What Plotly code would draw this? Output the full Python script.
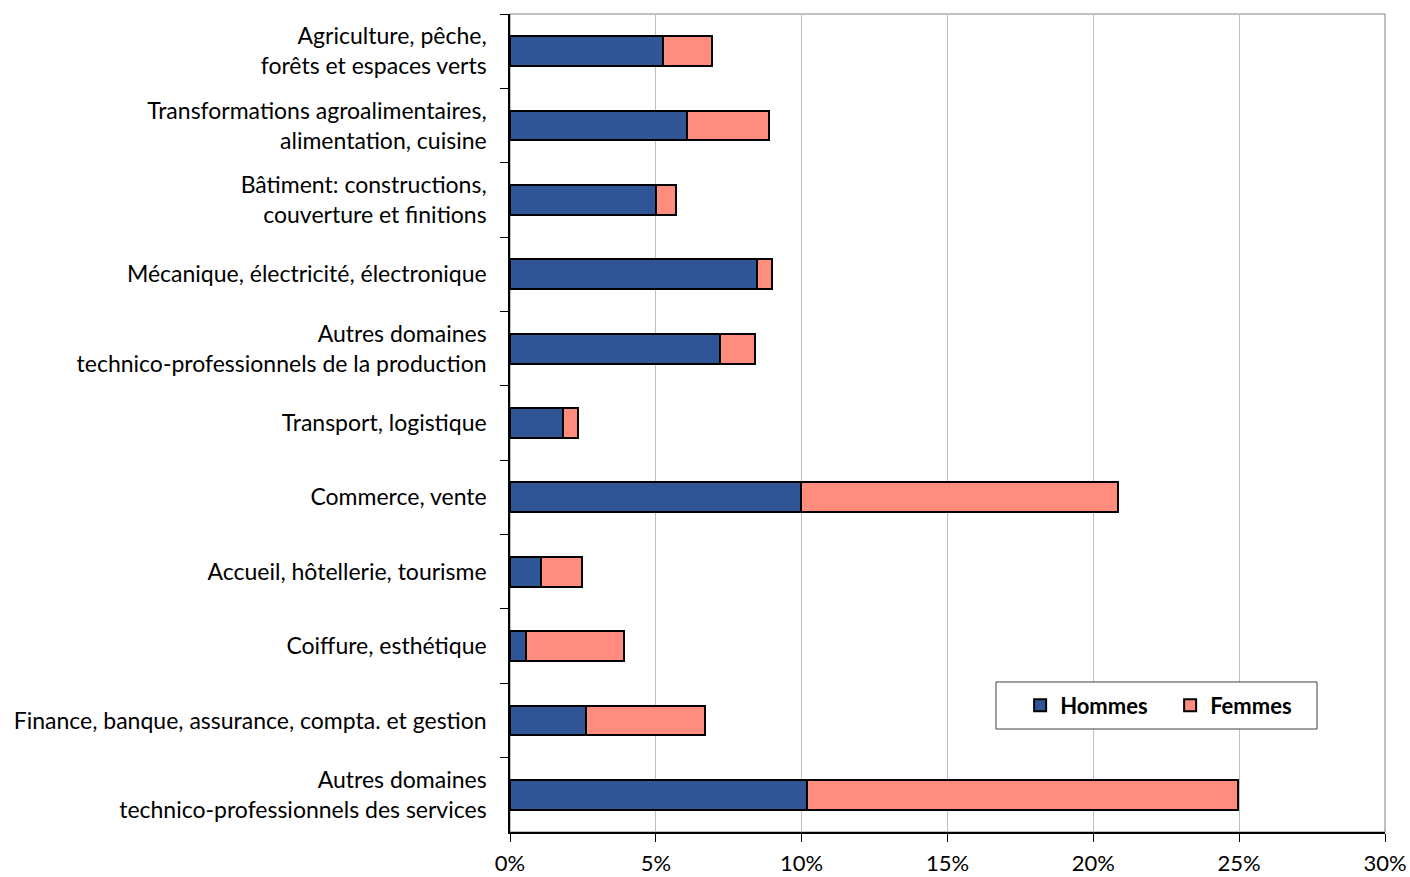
import plotly.graph_objects as go

categories = [
    "Agriculture, pêche,<br>forêts et espaces verts",
    "Transformations agroalimentaires,<br>alimentation, cuisine",
    "Bâtiment: constructions,<br>couverture et finitions",
    "Mécanique, électricité, électronique",
    "Autres domaines<br>technico-professionnels de la production",
    "Transport, logistique",
    "Commerce, vente",
    "Accueil, hôtellerie, tourisme",
    "Coiffure, esthétique",
    "Finance, banque, assurance, compta. et gestion",
    "Autres domaines<br>technico-professionnels des services",
]
hommes = [5.25, 6.07, 5.0, 8.47, 7.2, 1.82, 9.98, 1.06, 0.55, 2.61, 10.18]
femmes = [1.67, 2.81, 0.69, 0.51, 1.2, 0.51, 10.86, 1.41, 3.36, 4.08, 14.78]
x_ticks = [0, 5, 10, 15, 20, 25, 30]
x_tick_labels = ["0%", "5%", "10%", "15%", "20%", "25%", "30%"]

FONT = "Lato"

fig = go.Figure()
fig.add_trace(go.Bar(y=categories, x=hommes, name="Hommes", orientation="h",
                     marker=dict(color="#2F5597", line=dict(color="black", width=2))))
fig.add_trace(go.Bar(y=categories, x=femmes, name="Femmes", orientation="h",
                     marker=dict(color="#FF8C7C", line=dict(color="black", width=2))))

fig.update_layout(
    width=1410, height=877,
    margin=dict(l=510, r=25, t=14, b=45, autoexpand=False),
    barmode="stack", bargap=0.6,
    plot_bgcolor="white", paper_bgcolor="white",
    font=dict(family=FONT, size=23, color="black"),
    legend=dict(orientation="h", x=0.583, y=0.1547, xanchor="left", yanchor="middle",
                bgcolor="rgba(0,0,0,0)", borderwidth=0,
                traceorder="normal",
                font=dict(family=FONT, size=22, color="black", weight="bold"),
                entrywidth=105, itemsizing="constant"),
    shapes=[
        dict(type="rect", xref="paper", yref="paper", x0=0, x1=1, y0=0, y1=1,
             line=dict(color="#808080", width=1), layer="below"),
        dict(type="rect", xref="paper", yref="paper", x0=0.5554, x1=0.9223,
             y0=0.1259, y1=0.1834, fillcolor="white",
             line=dict(color="#404040", width=1), layer="above"),
    ],
)
fig.update_xaxes(range=[0, 30], tickvals=x_ticks, ticktext=x_tick_labels,
                 tickfont=dict(size=22),
                 showgrid=True, gridcolor="#BFBFBF", gridwidth=1,
                 showline=True, linecolor="black", linewidth=1.5,
                 ticks="outside", ticklen=8, tickcolor="black",
                 ticklabelstandoff=3, automargin=False,
                 zeroline=False, fixedrange=True)
fig.update_yaxes(autorange="reversed", showline=True, linecolor="black", linewidth=1.5,
                 ticks="outside", tickson="boundaries", ticklen=8, tickcolor="black",
                 ticklabelstandoff=17, showgrid=False, automargin=False)

fig.write_html("out.html")
